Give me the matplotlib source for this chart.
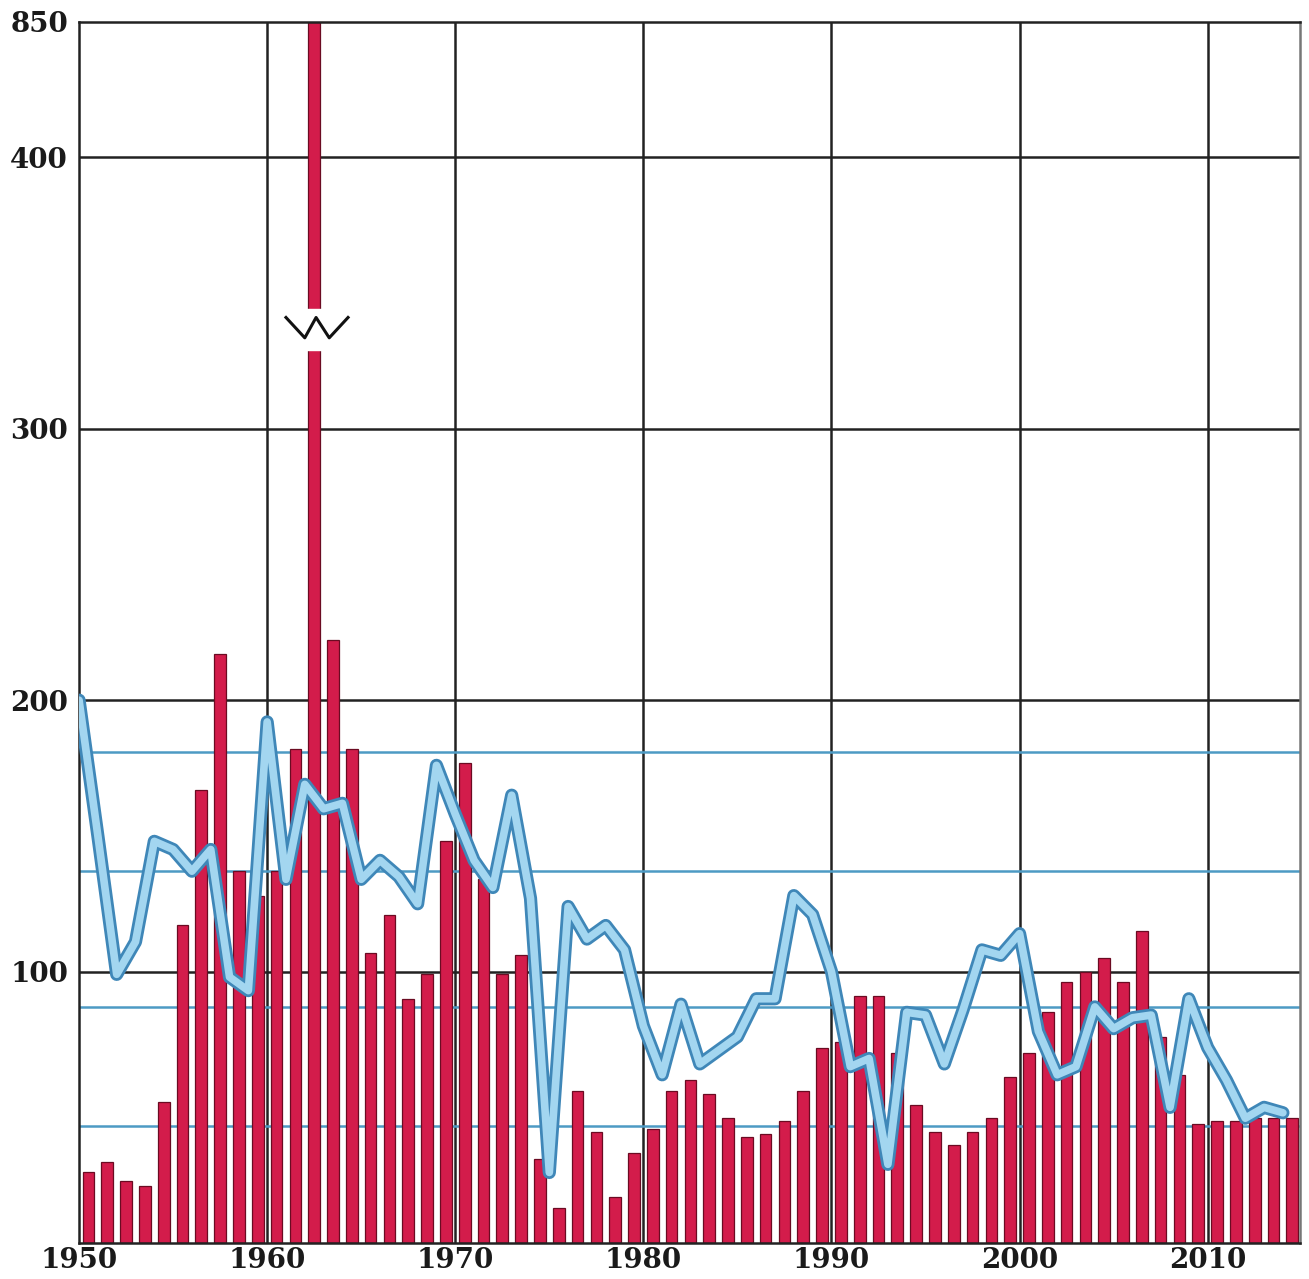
import numpy as np
import matplotlib
matplotlib.use("Agg")
import matplotlib.pyplot as plt
import matplotlib.patheffects as pe

# yearly values (bars) and the blue line, 1950-2014
years = list(range(1950, 2015))
bar_vals = [26, 30, 23, 21, 52, 117, 167, 217, 137, 128,
            137, 182, 850, 222, 182, 107, 121, 90, 99, 148,
            177, 134, 99, 106, 31, 13, 56, 41, 17, 33,
            42, 56, 60, 55, 46, 39, 40, 45, 56, 72,
            74, 91, 91, 70, 51, 41, 36, 41, 46, 61,
            70, 85, 96, 100, 105, 96, 115, 76, 62, 44,
            45, 45, 46, 46, 46]
line_vals = [200, 150, 99, 111, 148, 145, 137, 145, 98, 93,
             192, 134, 169, 160, 162, 134, 141, 135, 125, 176,
             158, 141, 131, 165, 127, 26, 124, 112, 117, 108,
             80, 62, 88, 66, 71, 76, 90, 90, 128, 121,
             100, 65, 68, 29, 85, 84, 66, 86, 108, 106,
             114, 78, 62, 65, 87, 79, 83, 84, 50, 90,
             72, 60, 46, 50, 48]
ref_levels = [181, 137, 87, 43]
yticks = [100, 200, 300, 400, 850]
xticks = [1950, 1960, 1970, 1980, 1990, 2000, 2010]


# axis is linear up to 400, the part above is squeezed
def fwd(y):
    y = np.asarray(y, dtype=float)
    return np.where(y <= 400, y, 400 + (y - 400) / 9.0)


def inv(t):
    t = np.asarray(t, dtype=float)
    return np.where(t <= 400, t, 400 + (t - 400) * 9.0)


fig = plt.figure(figsize=(13.09, 12.79), dpi=100)
ax = fig.add_axes([0.0604, 0.0281, 0.9326, 0.955])
ax.set_yscale("function", functions=(fwd, inv))
ax.set_ylim(0, 850)
ax.set_xlim(1950, 2014.9)

# grid
for yv in yticks[:-1]:
    ax.axhline(yv, color="#222222", lw=1.8, zorder=1)
for xv in xticks[1:]:
    ax.axvline(xv, color="#222222", lw=1.8, zorder=1)
for yv in ref_levels:
    ax.axhline(yv, color="#4d9ac4", lw=1.8, zorder=1)

x = np.array(years)
ax.bar(x + 0.5, bar_vals, width=0.62, color="#d31c4b",
       edgecolor="#6b0b22", linewidth=0.9, zorder=2)

# break mark on the tall bar
tall = int(np.argmax(bar_vals))
xc = years[tall] + 0.5
ax.fill_between([xc - 0.45, xc + 0.45], 329, 344, color="white", zorder=3)
ax.plot(xc + np.array([-1.5, -0.5, 0.1, 0.8, 1.8]),
        [341, 333.5, 341, 333.5, 341], color="#111111", lw=2.2, zorder=4)

ax.plot(x, line_vals, color="#a3d6f0", lw=5.5, zorder=5,
        solid_joinstyle="round", solid_capstyle="round",
        path_effects=[pe.Stroke(linewidth=9.5, foreground="#3f87b8",
                                joinstyle="round", capstyle="round"),
                      pe.Normal()])

ax.set_yticks(yticks)
ax.set_yticklabels([str(v) for v in yticks])
ax.set_xticks(xticks)
ax.set_xticklabels([str(v) for v in xticks])
ax.tick_params(length=0, labelsize=20, colors="#1a1a1a")
ax.tick_params(axis="x", pad=3)
ax.tick_params(axis="y", pad=8)
for lab in ax.get_xticklabels() + ax.get_yticklabels():
    lab.set_family("DejaVu Serif")
    lab.set_fontweight("bold")
ax.minorticks_off()

for s in ax.spines.values():
    s.set_color("#222222")
    s.set_linewidth(1.8)
ax.spines["right"].set_color("#777777")

fig.savefig("out.png", dpi=100)
